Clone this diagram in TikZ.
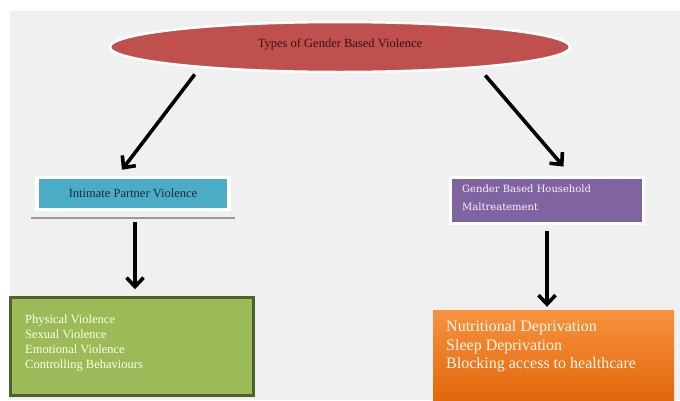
\documentclass[tikz,border=0pt]{standalone}
\usepackage{fontspec}
\setmainfont{Liberation Serif}
\newfontfamily\slabfont{DejaVu Serif}
\usetikzlibrary{arrows.meta,shapes.geometric}
\definecolor{bggray}{HTML}{F0F0F0}
\definecolor{gbvred}{HTML}{C0504D}
\definecolor{gbvtext}{HTML}{3A1212}
\definecolor{ipvblue}{HTML}{4BACC6}
\definecolor{ipvtext}{HTML}{1C2B33}
\definecolor{hhpurple}{HTML}{8064A2}
\definecolor{ipvgreen}{HTML}{9BBB59}
\definecolor{greenedge}{HTML}{4F6228}
\definecolor{orangetop}{HTML}{F7923E}
\definecolor{orangebot}{HTML}{E2680C}
\tikzset{
  arr/.style={draw=black, line width=3.6pt, -{Straight Barb[length=9pt,width=17pt]}},
  boxshape/.style={rectangle, inner sep=0pt},
  txt/.style={inner sep=0pt, align=left, anchor=north west},
}
\begin{document}
\begin{tikzpicture}[x=1pt,y=-1pt]
\useasboundingbox (0,0) rectangle (680,400);
\fill[white] (0,0) rectangle (680,400);
\fill[bggray] (10,11) rectangle (680,400);

% top ellipse
\node[ellipse, fill=gbvred, draw=white, line width=2.5pt, minimum width=460pt, minimum height=50pt, inner sep=0pt,
      text=gbvtext, font=\fontsize{12.5}{15}\selectfont] (gbv) at (340,47) {\raisebox{7.5pt}{Types of Gender Based Violence}};

% intimate partner violence
\node[boxshape, fill=ipvblue, draw=white, line width=3.5pt, minimum width=192pt, minimum height=32pt,
      text=ipvtext, font=\fontsize{12.5}{15}\selectfont] (ipv) at (133,193.5) {\raisebox{1pt}{Intimate Partner Violence}};
\draw[gray!80, line width=2.5pt] ([shift={(-4,6.5)}]ipv.south west) -- ([shift={(4,6.5)}]ipv.south east);

% household maltreatment
\node[boxshape, fill=hhpurple, draw=white, line width=3pt, minimum width=193pt, minimum height=46pt] (hh) at (546.5,200) {};
\node[txt, text=white!92!hhpurple, font=\slabfont\fontsize{10}{17.5}\selectfont] (hhtext) at (462,185) {Gender Based Household\\Maltreatement};

% green box
\node[boxshape, fill=ipvgreen, draw=greenedge, line width=2.5pt, minimum width=243pt, minimum height=98pt] (ipvlist) at (132,346.5) {};
\node[txt, text=white!90!yellow, font=\fontsize{12.5}{15}\selectfont] (ipvlisttext) at (25,314.5) {Physical Violence\\Sexual Violence\\Emotional Violence\\Controlling Behaviours};

% orange box
\node[boxshape, top color=orangetop, bottom color=orangebot, minimum width=241pt, minimum height=90pt] (hhlist) at (553.5,355) {};
\node[txt, text=white!95!orange, font=\fontsize{16}{18.7}\selectfont] (hhlisttext) at (446,320) {Nutritional Deprivation\\Sleep Deprivation\\Blocking access to healthcare};

% arrows
\draw[arr] ([shift={(0,7)}]gbv.188) -- ([shift={(-11,-6)}]ipv.north);
\draw[arr] ([shift={(0,8)}]gbv.352.5) -- ([shift={(17,-9)}]hh.north);
\draw[arr] ([shift={(2,11)}]ipv.south) -- ([shift={(3,-7)}]ipvlist.north);
\draw[arr] ([shift={(0.5,6)}]hh.south) -- ([shift={(-6.5,-3)}]hhlist.north);
\end{tikzpicture}
\end{document}
